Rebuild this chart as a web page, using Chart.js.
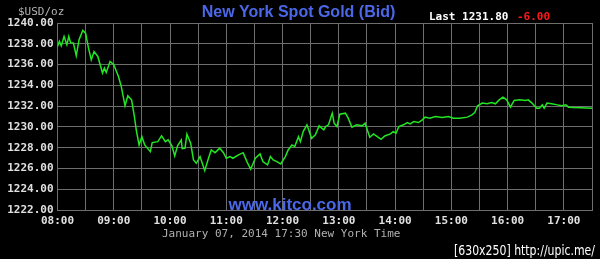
<!DOCTYPE html>
<html>
<head>
<meta charset="utf-8">
<script src="https://cdn.jsdelivr.net/npm/chart.js@4"></script>
<style>
  html, body { margin: 0; padding: 0; background: #000; }
  canvas { display: block; }
</style>
</head>
<body>
<canvas id="gold" width="600" height="259"></canvas>
<script>
// --- data (Jan 07, 2014) ---
const times = [
  '08:00','08:02','08:04','08:07','08:10','08:12','08:14','08:17','08:20','08:23',
  '08:27','08:30','08:33','08:36','08:39','08:43','08:48','08:50','08:52','08:56',
  '09:00','09:05','09:08','09:12','09:15','09:19','09:22','09:24','09:27','09:30',
  '09:33','09:39','09:41','09:47','09:51','09:55','09:58','10:02','10:05','10:08',
  '10:12','10:13','10:16','10:18','10:22','10:25','10:28','10:32','10:37','10:41',
  '10:44','10:48','10:53','10:57','11:00','11:04','11:07','11:13','11:18','11:22',
  '11:26','11:31','11:36','11:39','11:44','11:47','11:50','11:54','11:58','12:03',
  '12:06','12:10','12:13','12:17','12:19','12:22','12:26','12:31','12:35','12:39',
  '12:44','12:46','12:49','12:53','12:55','12:58','13:01','13:07','13:10','13:14',
  '13:19','13:25','13:28','13:33','13:37','13:41','13:45','13:49','13:55','13:58',
  '14:01','14:04','14:09','14:13','14:16','14:20','14:25','14:29','14:32','14:37',
  '14:43','14:50','14:57','15:02','15:09','15:17','15:22','15:25','15:28','15:33',
  '15:38','15:43','15:47','15:51','15:55','15:59','16:03','16:07','16:13','16:19',
  '16:22','16:26','16:31','16:34','16:37','16:39','16:42','16:47','16:53','16:58',
  '17:02','17:05','17:10','17:18','17:30'
];
const bids = [
  1237.74,1238.23,1237.80,1238.70,1237.90,1238.70,1238.10,1238.07,1236.85,1238.40,
  1239.30,1239.00,1237.60,1236.46,1237.26,1236.78,1235.18,1235.66,1235.24,1236.30,
  1235.98,1234.85,1233.89,1232.03,1232.99,1232.60,1231.00,1229.70,1228.26,1229.06,
  1228.26,1227.62,1228.49,1228.58,1229.13,1228.58,1228.75,1228.17,1227.20,1228.17,
  1228.75,1227.90,1227.95,1229.30,1228.43,1226.82,1226.50,1227.14,1225.79,1226.98,
  1227.78,1227.52,1227.95,1227.52,1226.98,1227.14,1226.98,1227.30,1227.52,1226.66,
  1225.92,1226.98,1227.40,1226.66,1226.34,1227.14,1226.82,1226.66,1226.43,1227.14,
  1227.78,1228.26,1228.10,1229.06,1228.58,1229.55,1230.20,1228.90,1229.23,1230.10,
  1229.71,1230.03,1230.20,1231.32,1230.36,1230.03,1231.22,1231.32,1230.84,1229.97,
  1230.20,1230.10,1230.36,1229.00,1229.33,1229.06,1228.81,1229.13,1229.33,1229.55,
  1229.39,1230.03,1230.20,1230.42,1230.29,1230.51,1230.42,1230.68,1230.94,1230.84,
  1231.00,1230.90,1231.00,1230.84,1230.84,1230.94,1231.16,1231.38,1232.03,1232.29,
  1232.22,1232.35,1232.22,1232.60,1232.86,1232.60,1231.90,1232.54,1232.60,1232.54,
  1232.60,1232.29,1231.80,1231.80,1232.12,1231.80,1232.29,1232.22,1232.12,1232.03,
  1232.12,1231.90,1231.86,1231.84,1231.80
];
const yTicks = [1222, 1224, 1226, 1228, 1230, 1232, 1234, 1236, 1238, 1240];
const xStart = '08:00';
const xEnd = '17:30';

const lastPrice = '1231.80';
const change = '-6.00';
const stamp = 'January 07, 2014 17:30 New York Time';

function toMin(t) {
  const [h, m] = t.split(':').map(Number);
  return h * 60 + m;
}
function fmt(min) {
  const h = Math.floor(min / 60), m = min % 60;
  return String(h).padStart(2, '0') + ':' + String(m).padStart(2, '0');
}

const mono = '"DejaVu Sans Mono", monospace';
const sans = '"Liberation Sans", Arial, sans-serif';

// texte autour du graphe (titre, last, watermark, date)
const decor = {
  id: 'decor',
  beforeDraw(chart) {
    const c = chart.ctx;
    c.save();
    c.fillStyle = '#000';
    c.fillRect(0, 0, chart.width, chart.height);
    c.restore();
  },
  beforeDatasetsDraw(chart) {
    const c = chart.ctx;
    c.save();
    c.fillStyle = '#4a68e8';
    c.font = 'bold 17px ' + sans;
    c.textAlign = 'center';
    c.textBaseline = 'alphabetic';
    c.fillText('www.kitco.com', 290, 209.5);
    c.restore();
  },
  afterDraw(chart) {
    const c = chart.ctx;
    c.save();
    c.textBaseline = 'alphabetic';

    c.fillStyle = '#4a68e8';
    c.font = 'bold 16px ' + sans;
    c.textAlign = 'center';
    c.fillText('New York Spot Gold (Bid)', 298.5, 17);

    c.textAlign = 'left';
    c.font = 'bold 11px ' + mono;
    c.fillStyle = '#ffffff';
    c.fillText('Last ' + lastPrice, 429, 19.5);
    c.fillStyle = '#ff1a1a';
    c.fillText(change, 517, 19.5);

    c.font = '11px ' + mono;
    c.fillStyle = '#b4b4b4';
    c.fillText('$USD/oz', 18, 14.5);

    c.fillStyle = '#b0b0b0';
    c.fillText(stamp, 162, 236.5);

    c.fillStyle = '#ffffff';
    c.font = '14px "DejaVu Sans Condensed", ' + sans;
    c.fillText('[630x250] http://upic.me/', 454, 255, 141);
    c.restore();
  }
};

const ctx = document.getElementById('gold').getContext('2d');
new Chart(ctx, {
  type: 'line',
  plugins: [decor],
  data: {
    datasets: [{
      data: times.map((t, i) => ({ x: toMin(t), y: bids[i] })),
      borderColor: '#22e622',
      borderWidth: 1.5,
      pointRadius: 0,
      tension: 0,
      fill: false
    }]
  },
  options: {
    responsive: false,
    animation: false,
    events: [],
    layout: { padding: { top: 23, right: 8, left: 0, bottom: 0 } },
    plugins: { legend: { display: false }, tooltip: { enabled: false } },
    scales: {
      x: {
        type: 'linear',
        min: toMin(xStart),
        max: toMin(xEnd),
        afterFit: s => { s.height = 49; },
        afterBuildTicks: s => {
          s.ticks = [];
          for (let v = toMin(xStart); v <= toMin(xEnd); v += 30) s.ticks.push({ value: v });
        },
        border: { color: '#6e6e6e' },
        grid: { color: '#6e6e6e', drawTicks: false },
        ticks: {
          autoSkip: false,
          maxRotation: 0,
          padding: 5,
          color: '#e0e0e0',
          font: { family: mono, size: 11, weight: 'bold' },
          callback: v => (v % 60 === 0 ? fmt(v) : '')
        }
      },
      y: {
        min: yTicks[0],
        max: yTicks[yTicks.length - 1],
        afterFit: s => { s.width = 57.5; },
        afterBuildTicks: s => { s.ticks = yTicks.map(v => ({ value: v })); },
        border: { color: '#6e6e6e' },
        grid: { color: '#6e6e6e', drawTicks: false },
        ticks: {
          padding: 4,
          color: '#e0e0e0',
          font: { family: mono, size: 11, weight: 'bold' },
          callback: v => v.toFixed(2)
        }
      }
    }
  }
});
</script>
</body>
</html>
